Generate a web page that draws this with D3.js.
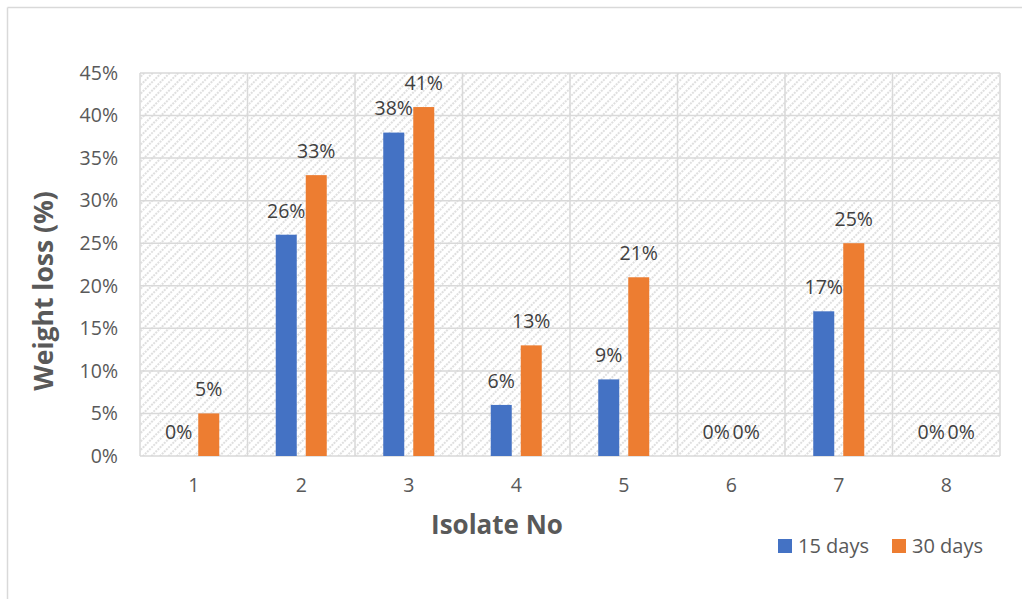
<!DOCTYPE html>
<html>
<head>
<meta charset="utf-8">
<script src="https://cdn.jsdelivr.net/npm/d3@7"></script>
<style>
  html, body { margin: 0; padding: 0; background: #fff; }
  svg { display: block; }
  text { font-family: "Open Sans", "Liberation Sans", sans-serif; }
</style>
</head>
<body>
<svg id="chart" width="1027" height="599"></svg>
<script>
// Weight loss per isolate after 15 and 30 days
const isolates = ["1", "2", "3", "4", "5", "6", "7", "8"];
const days15 = [0, 26, 38, 6, 9, 0, 17, 0];
const days30 = [5, 33, 41, 13, 21, 0, 25, 0];
const seriesNames = ["15 days", "30 days"];
const seriesColors = ["#4472C4", "#ED7D31"];
const yTicks = [0, 5, 10, 15, 20, 25, 30, 35, 40, 45];

const svg = d3.select("#chart");
const W = 1027, H = 599;
const margin = { left: 140, right: 27, top: 73, bottom: H - 456 };
const plotW = W - margin.left - margin.right;
const plotH = H - margin.top - margin.bottom;

// Outer chart frame (left and top edges)
svg.append("line").attr("x1", 7.5).attr("y1", 7.5).attr("x2", 1022).attr("y2", 7.5)
  .attr("stroke", "#d9d9d9").attr("stroke-width", 1.5);
svg.append("line").attr("x1", 7.5).attr("y1", 7.5).attr("x2", 7.5).attr("y2", H)
  .attr("stroke", "#d9d9d9").attr("stroke-width", 1.5);

// Diagonal hatch used for the plot background
const defs = svg.append("defs");
const pat = defs.append("pattern")
  .attr("id", "hatch")
  .attr("patternUnits", "userSpaceOnUse")
  .attr("width", 6).attr("height", 6)
  .attr("patternTransform", "rotate(45)");
pat.append("line")
  .attr("x1", 3).attr("y1", 0).attr("x2", 3).attr("y2", 6)
  .attr("stroke", "#dadada").attr("stroke-width", 1.7)
  .attr("stroke-dasharray", "2 1");

const g = svg.append("g").attr("transform", `translate(${margin.left},${margin.top})`);

const x = d3.scaleBand().domain(isolates).range([0, plotW]).paddingInner(0).paddingOuter(0);
const y = d3.scaleLinear().domain([0, 45]).range([plotH, 0]);
const barW = 21;
const offsets = [-15, 15];

g.append("rect").attr("x", 0).attr("y", 0).attr("width", plotW).attr("height", plotH)
  .attr("fill", "url(#hatch)");

// Horizontal gridlines
g.append("g").selectAll("line").data(yTicks).join("line")
  .attr("x1", 0).attr("x2", plotW)
  .attr("y1", d => y(d)).attr("y2", d => y(d))
  .attr("stroke", "#d9d9d9").attr("stroke-width", 1.5);

// Vertical gridlines at category boundaries
const bounds = isolates.map(d => x(d)).concat([plotW]);
g.append("g").selectAll("line").data(bounds).join("line")
  .attr("x1", d => d).attr("x2", d => d)
  .attr("y1", 0).attr("y2", plotH)
  .attr("stroke", "#d9d9d9").attr("stroke-width", 1.5);

// Y axis labels
const yAxis = g.append("g").call(d3.axisLeft(y).tickValues(yTicks).tickFormat(d => d + "%").tickSize(0).tickPadding(22));
yAxis.select(".domain").remove();
yAxis.selectAll("text").attr("font-size", 19.5).attr("fill", "#595959")
  .style("font-family", "'Open Sans', sans-serif");

// X axis labels
const xAxis = g.append("g").attr("transform", `translate(0,${plotH})`)
  .call(d3.axisBottom(x).tickSize(0).tickPadding(22));
xAxis.select(".domain").remove();
xAxis.selectAll("text").attr("font-size", 19.5).attr("fill", "#595959")
  .style("font-family", "'Open Sans', sans-serif");

// Bars and value labels
const series = [days15, days30];
series.forEach((vals, si) => {
  const data = isolates.map((k, i) => ({ k, v: vals[i] }));
  g.append("g").selectAll("rect").data(data).join("rect")
    .attr("x", d => x(d.k) + x.bandwidth() / 2 + offsets[si] - barW / 2)
    .attr("y", d => y(d.v))
    .attr("width", barW)
    .attr("height", d => plotH - y(d.v))
    .attr("fill", seriesColors[si]);
  g.append("g").selectAll("text").data(data).join("text")
    .attr("x", d => x(d.k) + x.bandwidth() / 2 + offsets[si])
    .attr("y", d => y(d.v) - 24)
    .attr("dy", "0.35em")
    .attr("text-anchor", "middle")
    .attr("font-size", 19.5)
    .attr("fill", "#404040")
    .text(d => d.v + "%");
});

// Axis titles
svg.append("text")
  .attr("transform", "translate(44,291) rotate(-90)")
  .attr("text-anchor", "middle").attr("dy", "0.35em")
  .attr("font-size", 26.5).attr("font-weight", "bold").attr("fill", "#595959")
  .text("Weight loss (%)");
svg.append("text")
  .attr("x", 497).attr("y", 525).attr("dy", "0.35em")
  .attr("text-anchor", "middle")
  .attr("font-size", 26).attr("font-weight", "bold").attr("fill", "#595959")
  .text("Isolate No");

// Legend
const legend = svg.append("g");
const legX = [778, 892];
seriesNames.forEach((name, i) => {
  legend.append("rect").attr("x", legX[i]).attr("y", 539).attr("width", 14).attr("height", 14)
    .attr("fill", seriesColors[i]);
  legend.append("text").attr("x", legX[i] + 20).attr("y", 546).attr("dy", "0.35em")
    .attr("font-size", 20).attr("fill", "#595959").text(name);
});
</script>
</body>
</html>
